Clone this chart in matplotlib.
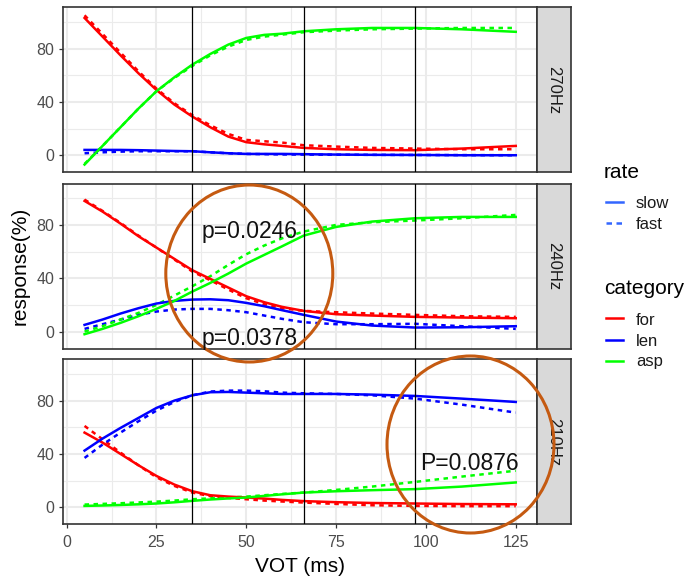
import matplotlib
matplotlib.use("Agg")
import matplotlib.pyplot as plt
from matplotlib.lines import Line2D
from matplotlib.patches import Ellipse

W, H = 689, 577
plt.rcParams['font.family'] = ['Liberation Sans', 'DejaVu Sans']

# ---------------- data ----------------
vot = [5, 10, 15, 20, 25, 30, 35, 40, 45, 50, 55, 60, 66, 75, 85, 97, 110, 125]
facets = ['270Hz', '240Hz', '210Hz']
categories = ['for', 'len', 'asp']
rates = ['slow', 'fast']
boundaries = [35, 66, 97]
xticks = [0, 25, 50, 75, 100, 125]
yticks = [0, 40, 80]

# 270Hz
for_slow_270 = [103, 89, 75, 61.5, 49, 38, 29, 21, 14, 9.8, 8.2, 7, 5.5, 4.5, 4, 3.8, 5, 7]
for_fast_270 = [105, 91, 77, 63, 50, 39, 30, 22.5, 16, 11.5, 10.5, 9.5, 7.5, 6.5, 5.5, 5, 4.5, 4.5]
len_slow_270 = [4, 4, 4, 3.8, 3.5, 3.2, 3, 2.2, 1.5, 1, 1, 1, 0.8, 0.5, 0.3, 0.2, 0, 0]
len_fast_270 = [1.5, 2.2, 2.7, 3, 3, 3, 3, 2.2, 1.5, 1, 0.8, 0.6, 0.5, 0.4, 0.3, 0.2, 0.1, 0]
asp_slow_270 = [-7, 7, 21, 35, 48, 58.5, 68, 76, 83, 88, 90.3, 91.2, 93, 94.5, 95.5, 95.5, 94.5, 92.6]
asp_fast_270 = [-6.5, 7, 21, 35, 48, 58, 67, 75, 81.5, 86.5, 89, 90.5, 92.3, 93.5, 94.5, 95, 95.5, 95.5]

# 240Hz
for_slow_240 = [98, 90, 81, 71.5, 63, 54.5, 46, 39.5, 33, 26.5, 22, 18.5, 15.5, 13, 12, 11, 10.5, 10]
for_fast_240 = [99, 90.5, 81.5, 72, 63, 54, 45, 38.5, 31.5, 25, 20.5, 17.5, 15.5, 14.5, 13.5, 12.5, 11.5, 11]
len_slow_240 = [5, 9, 13.5, 17.5, 21, 23, 24, 24.2, 23.5, 21.5, 19, 16, 12.5, 7.5, 4.5, 3, 3.2, 4]
len_fast_240 = [2, 5.5, 9, 12.5, 15, 16.5, 17, 17, 16, 14.5, 12, 9.5, 7, 5.5, 5.5, 5.8, 4, 2]
asp_slow_240 = [-2, 2, 6.5, 11.5, 17, 23, 30, 36.5, 43.5, 51, 57.5, 64, 72, 78.5, 82.5, 85, 86, 86]
asp_fast_240 = [0, 4, 9, 14, 20, 27, 34, 41.5, 50, 58, 64.5, 70, 75, 80, 82, 83.3, 85, 87.5]

# 210Hz
for_slow_210 = [56, 48.5, 40, 31.5, 23.5, 17, 12, 9, 8, 7.3, 6.5, 5.5, 4.6, 3.8, 3.2, 2.8, 2.4, 2.2]
for_fast_210 = [61, 51, 41, 31.5, 22.5, 16, 11, 8.3, 7, 6, 5, 4.3, 3.5, 2.5, 1.5, 1, 0.8, 0.8]
len_slow_210 = [42.5, 51.5, 59.5, 67, 74.5, 80, 84, 86.3, 86.5, 86, 85.5, 85, 85, 85, 84.5, 83.5, 81.5, 79]
len_fast_210 = [37, 47, 56, 64.5, 72.5, 79, 84, 86.8, 87.5, 87.5, 87, 86, 85.5, 85, 84, 81.5, 77, 71]
asp_slow_210 = [1, 1.3, 1.7, 2.2, 2.8, 3.7, 4.8, 5.8, 6.6, 7.3, 8.5, 9.7, 11, 12, 12.8, 13.6, 15.5, 18.6]
asp_fast_210 = [2, 2.5, 3, 3.6, 4.2, 5, 6, 6.7, 7.3, 8, 9, 10, 11, 13, 15.5, 19, 23, 27.4]

data = {
    '270Hz': {('for', 'slow'): for_slow_270, ('for', 'fast'): for_fast_270,
              ('len', 'slow'): len_slow_270, ('len', 'fast'): len_fast_270,
              ('asp', 'slow'): asp_slow_270, ('asp', 'fast'): asp_fast_270},
    '240Hz': {('for', 'slow'): for_slow_240, ('for', 'fast'): for_fast_240,
              ('len', 'slow'): len_slow_240, ('len', 'fast'): len_fast_240,
              ('asp', 'slow'): asp_slow_240, ('asp', 'fast'): asp_fast_240},
    '210Hz': {('for', 'slow'): for_slow_210, ('for', 'fast'): for_fast_210,
              ('len', 'slow'): len_slow_210, ('len', 'fast'): len_fast_210,
              ('asp', 'slow'): asp_slow_210, ('asp', 'fast'): asp_fast_210},
}

annotations = [('p=0.0246', 202, 238), ('p=0.0378', 202, 345), ('P=0.0876', 420, 470)]
circles = [(249.3, 273.5, 167, 177), (470.5, 444.5, 167, 177)]

# ---------------- style ----------------
cat_colors = {'for': '#FF0000', 'len': '#0000FF', 'asp': '#00FF00'}
DASH = (1.8, 1.8)
LW = 1.8
BORDER = '#333333'
GRID = '#EBEBEB'

def fx(x):
    return x / W

def fy(y):
    return 1 - y / H

fig = plt.figure(figsize=(W / 100, H / 100), dpi=100)

left, right = 63, 537.3
tops = [7.3, 183.6, 359.3]
ph = 165
strip_w = 33.4

for i, (facet, top) in enumerate(zip(facets, tops)):
    ax = fig.add_axes([fx(left), fy(top + ph), (right - left) / W, ph / H])
    ax.set_xlim(-1, 131)
    ax.set_xticks(xticks)
    ax.set_xticks([12.5, 37.5, 62.5, 87.5, 112.5], minor=True)
    ax.set_yticks(yticks)
    ax.set_yticks([-20, 20, 60, 100], minor=True)
    ax.set_ylim(-12.8, 111)
    ax.grid(True, which='major', color=GRID, lw=1.5, zorder=0)
    ax.grid(True, which='minor', color=GRID, lw=0.8, zorder=0)
    ax.set_axisbelow(True)
    for sp in ax.spines.values():
        sp.set_color(BORDER)
        sp.set_linewidth(1.2)
    ax.tick_params(axis='both', which='major', color=BORDER, length=3.2, width=0.9,
                   labelsize=11.5, labelcolor='#4D4D4D', pad=3.2)
    ax.tick_params(axis='both', which='minor', length=0)
    if i < 2:
        ax.tick_params(axis='x', labelbottom=False, length=0)
    else:
        ax.tick_params(axis='x', pad=4.5)

    for cat in categories:
        for rate in rates:
            y = data[facet][(cat, rate)]
            if rate == 'fast':
                ax.plot(vot, y, color=cat_colors[cat], lw=LW, dashes=DASH, zorder=2,
                        solid_capstyle='butt', dash_capstyle='butt')
            else:
                ax.plot(vot, y, color=cat_colors[cat], lw=LW, zorder=2.1,
                        solid_joinstyle='round')
    for b in boundaries:
        ax.axvline(b, color='black', lw=0.9, zorder=3)

    sax = fig.add_axes([fx(right), fy(top + ph), strip_w / W, ph / H])
    sax.set_facecolor('#D9D9D9')
    sax.set_xticks([])
    sax.set_yticks([])
    for sp in sax.spines.values():
        sp.set_color(BORDER)
        sp.set_linewidth(1.2)
    sax.text(0.5, 0.5, facet, rotation=-90, ha='center', va='center',
             fontsize=12, color='#1A1A1A', transform=sax.transAxes)

# axis titles
fig.text(fx(300), fy(571.7), 'VOT (ms)', ha='center', va='baseline', fontsize=15)
fig.text(fx(20), fy(265.5), 'response(%)', ha='center', va='center', rotation=90, fontsize=15)

# legend
fig.text(fx(604), fy(178.3), 'rate', fontsize=15, va='baseline', ha='left')
fig.text(fx(604), fy(294.3), 'category', fontsize=15, va='baseline', ha='left')
rate_items = [('slow', 201.7, 208.3, None), ('fast', 222.7, 229, DASH)]
for lab, ky, by, dash in rate_items:
    ln = Line2D([fx(605.7), fx(622.7)], [fy(ky), fy(ky)], color='#3366FF', lw=LW,
                transform=fig.transFigure)
    if dash:
        ln.set_dashes((2.2, 1.8))
    fig.add_artist(ln)
    fig.text(fx(636), fy(by), lab, fontsize=12, va='baseline', ha='left', color='#1A1A1A')
cat_items = [('for', 318.3, 325), ('len', 340, 345.7), ('asp', 360.7, 366.3)]
for lab, ky, by in cat_items:
    ln = Line2D([fx(605.7), fx(622.7)], [fy(ky), fy(ky)], color=cat_colors[lab], lw=LW,
                transform=fig.transFigure)
    fig.add_artist(ln)
    fig.text(fx(636), fy(by), lab, fontsize=12, va='baseline', ha='left', color='#1A1A1A')

# circles and p-values
for cx, cy, w, h in circles:
    e = Ellipse((fx(cx), fy(cy)), width=w / W, height=h / H, transform=fig.transFigure,
                fill=False, ec='#C55A11', lw=2.2, zorder=10)
    fig.add_artist(e)
for txt, x, y in annotations:
    fig.text(fx(x), fy(y), txt, fontsize=16.5, ha='left', va='baseline', color='#111111',
             zorder=11)

fig.savefig('out.png', dpi=100)
